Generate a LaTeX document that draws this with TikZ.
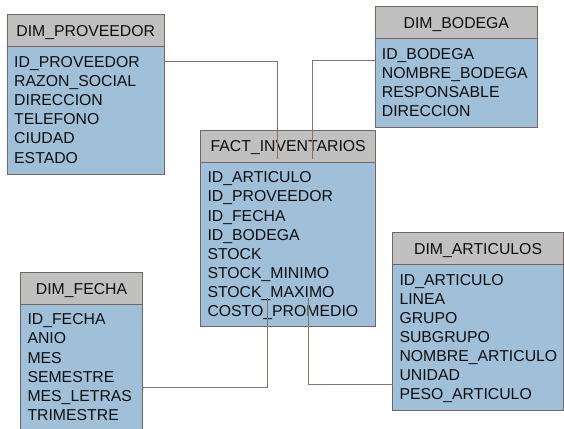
\documentclass[tikz,border=0pt]{standalone}
\usepackage{fontspec}
\setmainfont{Liberation Sans}
\usetikzlibrary{calc}
\definecolor{hdrfill}{RGB}{192,192,192}
\definecolor{bodyfill}{RGB}{160,192,218}
\definecolor{edgecol}{RGB}{118,100,96}
\definecolor{conncol}{RGB}{138,112,106}
\definecolor{txtcol}{RGB}{15,15,15}
\tikzset{
  x=1pt, y=-1pt,
  tblbox/.style={draw=edgecol, line width=1pt, anchor=north west, inner sep=0pt, outer sep=0pt},
  hdrbox/.style={tblbox, fill=hdrfill},
  bodybox/.style={tblbox, fill=bodyfill},
  celltext/.style={inner sep=0pt, text height=11pt, text depth=0pt, text=txtcol,
    font=\fontsize{15.8}{18}\selectfont},
  hdrtext/.style={celltext, anchor=center},
  rowtext/.style={celltext, anchor=west},
  connline/.style={draw=conncol, line width=0.9pt},
}
\begin{document}
\begin{tikzpicture}
\path[use as bounding box] (0,0) rectangle (564,428);
\clip (0,0) rectangle (564,428);

% DIM_PROVEEDOR
\node[hdrbox, minimum width=156.5pt, minimum height=32pt] (prov-h) at (7.5,15) {};
\node[bodybox, minimum width=156.5pt, minimum height=127pt] (prov-b) at (7.5,47) {};
\node[hdrtext] (prov-t) at (prov-h.center) {DIM\_PROVEEDOR};
\foreach \t [count=\i] in {ID\_PROVEEDOR, RAZON\_SOCIAL, DIRECCION, TELEFONO, CIUDAD, ESTADO}
  \node[rowtext] (prov-\i) at ($(prov-b.north west)+(6.5,{15+(\i-1)*19.1})$) {\t};

% DIM_BODEGA
\node[hdrbox, minimum width=162.7pt, minimum height=32pt] (bod-h) at (375,6.7) {};
\node[bodybox, minimum width=162.7pt, minimum height=88.6pt] (bod-b) at (375,38.7) {};
\node[hdrtext] (bod-t) at (bod-h.center) {DIM\_BODEGA};
\foreach \t [count=\i] in {ID\_BODEGA, NOMBRE\_BODEGA, RESPONSABLE, DIRECCION}
  \node[rowtext] (bod-\i) at ($(bod-b.north west)+(6.7,{15.3+(\i-1)*19.1})$) {\t};

% FACT_INVENTARIOS
\node[hdrbox, minimum width=175pt, minimum height=32.3pt] (fact-h) at (200.7,130) {};
\node[bodybox, minimum width=175pt, minimum height=163.7pt] (fact-b) at (200.7,162.3) {};
\node[hdrtext] (fact-t) at (fact-h.center) {FACT\_INVENTARIOS};
\foreach \t [count=\i] in {ID\_ARTICULO, ID\_PROVEEDOR, ID\_FECHA, ID\_BODEGA, STOCK, STOCK\_MINIMO, STOCK\_MAXIMO, COSTO\_PROMEDIO}
  \node[rowtext] (fact-\i) at ($(fact-b.north west)+(6.6,{15+(\i-1)*19.1})$) {\t};

% DIM_FECHA
\node[hdrbox, minimum width=121.6pt, minimum height=31.6pt] (fecha-h) at (20.7,272.7) {};
\node[bodybox, minimum width=121.6pt, minimum height=140pt] (fecha-b) at (20.7,304.3) {};
\node[hdrtext] (fecha-t) at (fecha-h.center) {DIM\_FECHA};
\foreach \t [count=\i] in {ID\_FECHA, ANIO, MES, SEMESTRE, MES\_LETRAS, TRIMESTRE}
  \node[rowtext] (fecha-\i) at ($(fecha-b.north west)+(6.6,{15+(\i-1)*19.1})$) {\t};

% DIM_ARTICULOS
\node[hdrbox, minimum width=170.8pt, minimum height=31.6pt] (art-h) at (392.7,232.7) {};
\node[bodybox, minimum width=170.8pt, minimum height=145.7pt] (art-b) at (392.7,264.3) {};
\node[hdrtext] (art-t) at (art-h.center) {DIM\_ARTICULOS};
\foreach \t [count=\i] in {ID\_ARTICULO, LINEA, GRUPO, SUBGRUPO, NOMBRE\_ARTICULO, UNIDAD, PESO\_ARTICULO}
  \node[rowtext] (art-\i) at ($(art-b.north west)+(6.6,{15.4+(\i-1)*19.1})$) {\t};

% connectors
\coordinate (j1) at (277,159);
\coordinate (j2) at (312,159);
\coordinate (j3) at (267.7,297.5);
\coordinate (j4) at (308.3,297.5);
\draw[connline] (prov-b.north east) ++(0,14) -| (j1);
\draw[connline] (bod-b.north west) ++(0,21.3) -| (j2);
\draw[connline] (fecha-b.north east) ++(0,83) -| (j3);
\draw[connline] (art-b.north west) ++(0,119.7) -| (j4);
\end{tikzpicture}
\end{document}
